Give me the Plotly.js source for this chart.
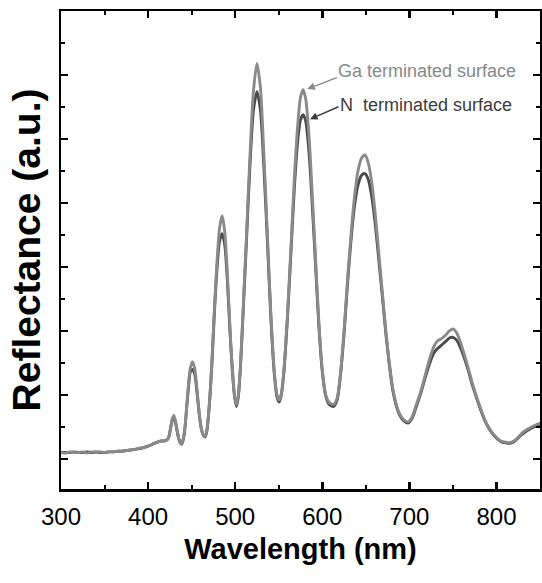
<!DOCTYPE html>
<html>
<head>
<meta charset="utf-8">
<script src="https://cdn.plot.ly/plotly-3.0.1.min.js"></script>
<style>html,body{margin:0;padding:0;background:#fff}#chart{width:542px;height:583px}</style>
</head>
<body>
<div id="chart"></div>
<script>
// Wavelength (nm)
const wavelength = [300,305,310,315,320,325,330,335,340,345,350,355,360,365,370,375,380,385,390,395,400,405,410,415,418,
420,422,424,426,428,429.5,431,433,435,437,438.5,
440.5,442.5,444.5,446.5,448.5,451,453.5,455.5,457.5,459.5,461.5,463.5,465.5,
467.5,470,473,476,479,482,485,488,491,494,497,499.5,501.5,
503.5,506,509,513,517,521,525,529,533,537,541,545,548,550.5,
553,556,560,564,568,572,575,578,581,585,589,592,596,600,604,608,613,
617,621,625,629,633,637,641,645,649,653,657,661,665,669,673,677,681,685,689,693,698.5,
703,708,713,718,723,728,732,737,742,746,750,754,758,762,767,772,777,782,787,792,797,802,807,811,815.5,820,825,830,835,840,845,850];

// Ga terminated surface reflectance (a.u.)
const gaSurface = [0.10,0.09,0.11,0.10,0.10,0.11,0.09,0.11,0.10,0.11,0.10,0.11,0.11,0.12,0.12,0.13,0.14,0.15,0.17,0.18,0.20,0.23,0.26,0.28,0.28,
0.29,0.30,0.36,0.50,0.64,0.68,0.62,0.47,0.33,0.25,0.24,
0.32,0.52,0.85,1.18,1.42,1.52,1.42,1.18,0.88,0.62,0.45,0.37,0.35,
0.45,0.80,1.45,2.30,3.05,3.60,3.80,3.55,2.90,2.05,1.35,0.97,0.85,
0.98,1.45,2.30,3.50,4.75,5.75,6.18,5.80,4.75,3.50,2.25,1.35,1.00,0.92,
1.02,1.40,2.25,3.30,4.40,5.25,5.65,5.77,5.62,5.00,4.00,3.20,2.15,1.40,1.00,0.88,0.85,
0.95,1.35,2.00,2.80,3.50,4.10,4.50,4.70,4.75,4.62,4.30,3.80,3.20,2.60,2.00,1.50,1.10,0.85,0.70,0.62,0.58,
0.65,0.85,1.05,1.30,1.55,1.75,1.84,1.88,1.94,2.00,2.03,1.98,1.85,1.68,1.45,1.20,0.98,0.78,0.60,0.47,0.38,0.31,0.27,0.26,0.255,0.28,0.34,0.41,0.46,0.50,0.53,0.56];

// N terminated surface reflectance (a.u.)
const nSurface = [0.10,0.10,0.10,0.11,0.10,0.10,0.11,0.10,0.11,0.10,0.10,0.11,0.11,0.12,0.12,0.13,0.14,0.15,0.16,0.18,0.20,0.23,0.26,0.28,0.28,
0.29,0.30,0.35,0.49,0.62,0.66,0.60,0.46,0.33,0.25,0.23,
0.31,0.50,0.83,1.14,1.36,1.40,1.33,1.13,0.86,0.61,0.45,0.37,0.34,
0.44,0.78,1.42,2.25,2.95,3.40,3.52,3.35,2.80,2.00,1.33,0.95,0.82,
0.96,1.42,2.25,3.42,4.60,5.45,5.74,5.45,4.55,3.40,2.20,1.32,0.97,0.89,
1.00,1.37,2.20,3.22,4.25,5.00,5.30,5.38,5.28,4.75,3.85,3.10,2.10,1.37,0.98,0.85,0.82,
0.92,1.32,1.96,2.74,3.42,3.95,4.28,4.43,4.46,4.36,4.08,3.65,3.10,2.54,1.96,1.47,1.07,0.83,0.68,0.60,0.56,
0.63,0.82,1.02,1.26,1.48,1.65,1.72,1.78,1.84,1.89,1.90,1.86,1.76,1.62,1.41,1.17,0.96,0.76,0.59,0.46,0.37,0.30,0.26,0.25,0.245,0.27,0.33,0.39,0.44,0.48,0.51,0.53];

const xTickVals = [300,400,500,600,700,800];
const xTickText = ['300','400','500','600','700','800'];

const traces = [
  {x: wavelength, y: nSurface, type: 'scatter', mode: 'lines', name: 'N terminated surface',
   line: {color: '#4a4a4a', width: 2.9, shape: 'spline', smoothing: 0.7}},
  {x: wavelength, y: gaSurface, type: 'scatter', mode: 'lines', name: 'Ga terminated surface',
   line: {color: '#8a8a8a', width: 2.9, shape: 'spline', smoothing: 0.7}}
];

const axisCommon = {
  showline: true, linecolor: '#000', linewidth: 2.5, mirror: 'allticks',
  ticks: 'inside', ticklen: 7, tickwidth: 2.5, tickcolor: '#000',
  showgrid: false, zeroline: false
};

const layout = {
  width: 542, height: 583,
  margin: {l: 61, r: 2, t: 11, b: 94},
  paper_bgcolor: '#fff', plot_bgcolor: '#fff',
  showlegend: false,
  font: {family: 'Liberation Sans, Arial, sans-serif', color: '#000'},
  xaxis: Object.assign({}, axisCommon, {
    range: [300, 850],
    tickvals: xTickVals, ticktext: xTickText,
    tickfont: {size: 24, color: '#000'},
    ticklabelstandoff: 5,
    minor: {dtick: 50, tick0: 300, ticklen: 4, tickwidth: 2, tickcolor: '#000', ticks: 'inside'},
    title: {text: '<b>Wavelength (nm)</b>', font: {size: 29, color: '#000'}, standoff: 10}
  }),
  yaxis: Object.assign({}, axisCommon, {
    range: [-0.47, 7.0],
    tick0: 0, dtick: 1,
    showticklabels: false,
    minor: {dtick: 0.5, tick0: 0, ticklen: 4, tickwidth: 2, tickcolor: '#000', ticks: 'inside'},
    title: {text: '<b>Reflectance (a.u.)</b>', font: {size: 39, color: '#000'}, standoff: 6}
  }),
  annotations: [
    {xref: 'x', yref: 'y', x: 720, y: 6.06, text: 'Ga terminated surface', showarrow: false,
     font: {family: 'Liberation Sans, Arial', size: 18, color: '#888888'}},
    {xref: 'x', yref: 'y', x: 719.5, y: 5.53, text: 'N\u00a0 terminated surface', showarrow: false,
     font: {family: 'Liberation Sans, Arial', size: 18, color: '#3c3c3c'}},
    {xref: 'x', yref: 'y', x: 582.8, y: 5.78, text: '', showarrow: true, ax: 31, ay: -12,
     arrowhead: 2, arrowsize: 1, arrowwidth: 1.5, arrowcolor: '#888888'},
    {xref: 'x', yref: 'y', x: 585.9, y: 5.31, text: '', showarrow: true, ax: 30, ay: -13,
     arrowhead: 2, arrowsize: 1, arrowwidth: 1.5, arrowcolor: '#3c3c3c'}
  ]
};

Plotly.newPlot('chart', traces, layout, {staticPlot: true, displayModeBar: false});
</script>
</body>
</html>
